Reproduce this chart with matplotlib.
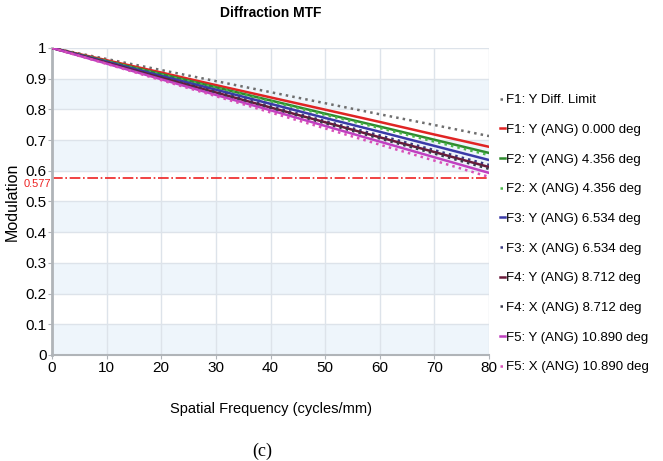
import matplotlib.pyplot as plt
import numpy as np

# spatial frequency samples (cycles/mm)
freq = [0, 10, 20, 30, 40, 50, 60, 70, 80]

# modulation values
diff_limit = [1.0, 0.964, 0.928, 0.892, 0.856, 0.820, 0.784, 0.749, 0.713]
f1_y = [1.0, 0.960, 0.920, 0.879, 0.839, 0.799, 0.759, 0.718, 0.678]
f2_y = [1.0, 0.957, 0.915, 0.872, 0.829, 0.786, 0.744, 0.701, 0.658]
f2_x = [1.0, 0.957, 0.913, 0.870, 0.826, 0.782, 0.739, 0.695, 0.651]
f3_y = [1.0, 0.955, 0.909, 0.864, 0.818, 0.772, 0.727, 0.681, 0.635]
f3_x = [1.0, 0.953, 0.905, 0.858, 0.810, 0.762, 0.715, 0.667, 0.619]
f4_y = [1.0, 0.952, 0.903, 0.855, 0.806, 0.758, 0.709, 0.661, 0.612]
f4_x = [1.0, 0.951, 0.902, 0.853, 0.804, 0.754, 0.705, 0.656, 0.606]
f5_y = [1.0, 0.949, 0.898, 0.847, 0.797, 0.746, 0.695, 0.644, 0.593]
f5_x = [1.0, 0.948, 0.895, 0.843, 0.790, 0.738, 0.685, 0.633, 0.580]

labels = ['F1: Y Diff. Limit', 'F1: Y (ANG) 0.000 deg', 'F2: Y (ANG) 4.356 deg',
          'F2: X (ANG) 4.356 deg', 'F3: Y (ANG) 6.534 deg', 'F3: X (ANG) 6.534 deg',
          'F4: Y (ANG) 8.712 deg', 'F4: X (ANG) 8.712 deg', 'F5: Y (ANG) 10.890 deg',
          'F5: X (ANG) 10.890 deg']
threshold = 0.577

series = [diff_limit, f1_y, f2_y, f2_x, f3_y, f3_x, f4_y, f4_x, f5_y, f5_x]
colors = ['#6e6e6e', '#e02424', '#2e8b2e', '#4cb84c', '#3a3aa8', '#3a3a80',
          '#6a1a3a', '#3a3a4a', '#c040c0', '#d850b8']
styles = [':', '-', '-', ':', '-', ':', '-', ':', '-', ':']

plt.rcParams['font.family'] = 'Liberation Sans'

fig = plt.figure(figsize=(6.63, 4.61), dpi=100)
ax = fig.add_axes([0.0784, 0.23, 0.6592, 0.666])

# alternating background bands
for k in range(0, 10, 2):
    ax.axhspan(k / 10, k / 10 + 0.1, color='#eef5fb', zorder=0, lw=0)

for s, c, ls, lab in zip(series, colors, styles, labels):
    ax.plot(freq, s, color=c, linestyle=ls, lw=1.8, label=lab, zorder=3)

ax.axhline(threshold, color='#ee2222', linestyle='-.', lw=1.2, zorder=2)
ax.text(-0.2, threshold - 0.02, '%.3f' % threshold, color='#ee2222', fontsize=8,
        ha='right', va='center')

ax.set_xlim(0, 80)
ax.set_ylim(0, 1)
ax.set_xticks(range(0, 81, 10))
ax.set_yticks(np.arange(0, 1.01, 0.1))
ax.set_yticklabels(['0', '0.1', '0.2', '0.3', '0.4', '0.5', '0.6', '0.7', '0.8', '0.9', '1'])
ax.grid(True, color='#dde3ea', lw=1)
ax.set_axisbelow(True)
for side in ['top', 'right']:
    ax.spines[side].set_visible(False)
ax.spines['left'].set_color('#b0b4b8')
ax.spines['left'].set_linewidth(2)
ax.spines['bottom'].set_color('#b0b4b8')
ax.spines['bottom'].set_linewidth(1.5)
ax.tick_params(labelsize=11, length=3, color='#b0b4b8', pad=1)

ax.set_xlabel('Spatial Frequency (cycles/mm)', fontsize=10.5, labelpad=20)
ax.set_ylabel('Modulation', fontsize=11.5, labelpad=4)
ax.set_title('Diffraction MTF', fontsize=10, fontweight='bold', pad=22)

ax.legend(loc='upper left', bbox_to_anchor=(1.0, 0.884), frameon=False, fontsize=9.5,
          handlelength=0.4, handletextpad=0.1, labelspacing=1.32, borderaxespad=0.4)

fig.text(0.395, 0.021, '(c)', fontsize=13, family='Liberation Serif', ha='center',
         va='center')

fig.savefig('out.png', dpi=100)
